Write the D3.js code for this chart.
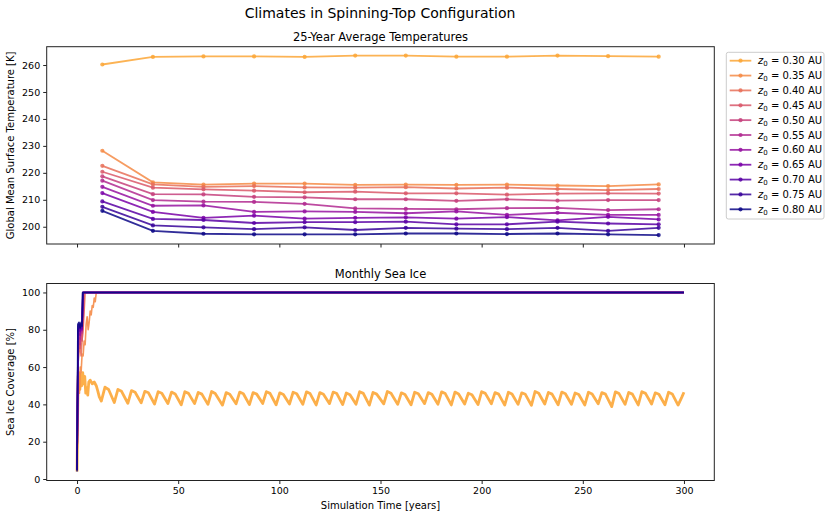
<!DOCTYPE html>
<html>
<head>
<meta charset="utf-8">
<script src="https://cdn.jsdelivr.net/npm/d3@7/dist/d3.min.js"></script>
<style>
  html, body { margin: 0; padding: 0; background: #fff; }
  svg { display: block; font-family: "DejaVu Sans", sans-serif; }
</style>
</head>
<body>
<svg id="chart" width="831" height="518"></svg>
<script>
// ---------------- DATA ----------------
const orbitLabels = ["0.30", "0.35", "0.40", "0.45", "0.50", "0.55", "0.60", "0.65", "0.70", "0.75", "0.80"];
const avgYears = [12.5, 37.5, 62.5, 87.5, 112.5, 137.5, 162.5, 187.5, 212.5, 237.5, 262.5, 287.5];

const temp030 = [260.2, 263.0, 263.2, 263.2, 263.0, 263.5, 263.5, 263.1, 263.1, 263.5, 263.3, 263.1];
const temp035 = [228.2, 216.5, 215.6, 216.0, 216.0, 215.5, 215.6, 215.5, 215.6, 215.3, 215.1, 215.7];
const temp040 = [222.6, 215.7, 214.8, 215.1, 214.6, 214.5, 214.7, 214.2, 214.5, 214.0, 213.6, 214.0];
const temp045 = [220.4, 214.5, 213.9, 213.4, 212.8, 213.0, 212.4, 212.4, 211.9, 212.3, 212.4, 212.3];
const temp050 = [218.7, 212.1, 212.0, 211.1, 210.9, 210.2, 210.2, 209.6, 210.2, 209.7, 209.9, 209.9];
const temp055 = [217.1, 209.9, 209.3, 209.2, 208.5, 206.8, 206.6, 206.5, 206.9, 207.0, 206.2, 206.5];
const temp060 = [214.8, 207.8, 207.9, 205.5, 205.7, 205.5, 205.0, 205.7, 204.4, 205.2, 204.4, 204.4];
const temp065 = [212.5, 205.5, 203.3, 204.1, 203.0, 203.3, 203.5, 203.0, 203.6, 202.4, 203.7, 202.7];
const temp070 = [209.4, 202.9, 202.5, 201.4, 201.7, 201.7, 201.9, 200.9, 200.9, 201.9, 201.2, 200.9];
const temp075 = [207.4, 200.5, 199.8, 199.1, 199.8, 198.8, 199.6, 199.3, 199.1, 199.6, 198.5, 199.6];
const temp080 = [205.9, 198.5, 197.4, 197.2, 197.2, 197.2, 197.5, 197.5, 197.3, 197.5, 197.2, 196.9];

// Monthly sea ice (at turning points)
const iceT030 = [0, 0.3, 0.6, 1.0, 1.4, 1.8, 2.3, 2.8, 3.3, 3.8, 4.3, 4.8, 5.3, 5.8, 6.5, 7.5, 8.5, 9.5, 10.3, 11.0,
  12.0, 13.8, 15.6, 18.4, 20.2, 22.0, 25.1, 26.9, 28.7, 31.7, 33.5, 35.3, 38.3, 40.1, 41.9, 44.9, 46.7, 48.5,
  51.5, 53.3, 55.1, 58.1, 59.9, 61.7, 64.7, 66.5, 68.3, 71.9, 73.7, 75.5, 78.6, 80.4, 82.2, 85.2, 87.0, 88.8,
  91.8, 93.6, 95.4, 98.4, 100.2, 102.0, 105.0, 106.8, 108.6, 111.6, 113.4, 115.2, 118.2, 120.0, 121.8,
  124.8, 126.6, 128.4, 131.3, 133.1, 134.9, 137.9, 139.7, 141.5, 144.5, 146.3, 148.1, 151.6, 153.4, 155.2,
  158.5, 160.3, 162.1, 165.1, 166.9, 168.7, 171.8, 173.6, 175.4, 178.4, 180.2, 182.0, 185.0, 186.8, 188.6,
  191.6, 193.4, 195.2, 198.2, 200.0, 201.8, 204.8, 206.6, 208.4, 211.4, 213.2, 215.0, 218.0, 219.8, 221.6,
  224.6, 226.4, 228.2, 231.2, 233.0, 234.8, 237.8, 239.6, 241.4, 244.4, 246.2, 248.0, 251.0, 252.8, 254.6,
  257.6, 259.4, 261.2, 264.3, 266.1, 267.9, 270.9, 272.7, 274.5, 277.4, 279.2, 281.0, 284.0, 285.8, 287.6,
  290.6, 292.4, 294.2, 297.1, 299.0, 300.0];
const iceV030 = [4, 35, 55, 57, 48, 56, 50, 57, 51, 55, 46, 49, 45, 52, 53, 51, 52, 50, 47, 44,
  41.8, 49.2, 48.0, 41.0, 48.0, 47.0, 40.6, 47.4, 46.5, 40.8, 47.0, 46.2, 40.2, 46.8, 46.0, 40.5, 46.6, 45.6,
  39.8, 46.8, 45.9, 40.4, 46.4, 45.5, 40.0, 46.9, 45.8, 39.6, 46.3, 45.4, 40.3, 46.6, 45.7, 39.9, 46.3, 45.5,
  40.5, 46.8, 45.9, 39.8, 46.2, 45.3, 40.2, 46.5, 45.7, 40.0, 46.7, 45.8, 39.7, 46.3, 45.4,
  40.4, 46.6, 45.8, 39.9, 46.1, 45.2, 40.1, 46.8, 45.9, 39.6, 46.4, 45.5, 40.3, 46.9, 46.0,
  40.0, 46.2, 45.3, 39.8, 46.5, 45.7, 40.4, 46.3, 45.4, 40.1, 46.7, 45.8, 39.7, 46.6, 45.6,
  40.2, 46.0, 45.2, 39.9, 46.8, 45.9, 40.3, 46.3, 45.5, 39.6, 46.5, 45.6, 40.0, 46.2, 45.4,
  39.5, 46.9, 46.0, 40.2, 46.4, 45.5, 39.8, 46.6, 45.7, 40.1, 46.1, 45.3, 39.7, 46.5, 45.6,
  40.3, 46.3, 45.5, 38.8, 46.7, 45.8, 40.0, 46.4, 45.5, 39.7, 46.8, 45.9, 40.2, 46.2, 45.4,
  39.8, 46.5, 45.6, 39.6, 44.0, 46.5];

const iceT035 = [0, 0.4, 0.8, 1.2, 1.6, 2.0, 2.5, 3.0, 3.5, 4.0, 4.5, 5.0, 5.5, 6.0, 6.5, 7.0, 7.5, 8.0, 8.5, 9.0, 9.5, 300];
const iceV035 = [5, 40, 50, 46, 60, 57, 67, 66, 74, 72, 83, 87, 80, 84, 90, 88, 93, 92, 97, 95, 100, 100];
const iceT040 = [0, 0.5, 1.0, 1.5, 2.0, 2.5, 3.0, 3.5, 4.0, 300];
const iceV040 = [5, 62, 68, 72, 66, 75, 80, 90, 100, 100];
const iceT045 = [0, 0.5, 1.0, 1.5, 2.0, 2.5, 3.0, 3.5, 300];
const iceV045 = [5, 66, 74, 70, 78, 74, 85, 100, 100];
const iceT050 = [0, 0.5, 1.0, 1.5, 2.0, 2.5, 3.0, 300];
const iceV050 = [5, 70, 76, 72, 80, 78, 100, 100];
const iceT055 = [0, 0.5, 1.0, 1.5, 2.0, 2.5, 3.0, 300];
const iceV055 = [5, 73, 78, 75, 81, 79, 100, 100];
const iceT060 = [0, 0.5, 1.0, 1.5, 2.0, 2.5, 2.9, 300];
const iceV060 = [5, 76, 80, 77, 82, 80, 100, 100];
const iceT065 = [0, 0.5, 1.0, 1.5, 2.0, 2.5, 2.9, 300];
const iceV065 = [5, 78, 81, 79, 82, 80, 100, 100];
const iceT070 = [0, 0.5, 1.0, 1.5, 2.0, 2.5, 2.8, 300];
const iceV070 = [5, 80, 82, 80, 83, 81, 100, 100];
const iceT075 = [0, 0.5, 1.0, 1.5, 2.0, 2.5, 2.8, 300];
const iceV075 = [5, 82, 83, 81, 83, 82, 100, 100];
const iceT080 = [0, 0.4, 1.0, 1.5, 2.0, 2.5, 2.8, 300];
const iceV080 = [4, 83, 84, 81, 84, 82, 100, 100];

const xTicks = [0, 50, 100, 150, 200, 250, 300];
const tempTicks = [200, 210, 220, 230, 240, 250, 260];
const iceTicks = [0, 20, 40, 60, 80, 100];

const tempSeries = [temp030, temp035, temp040, temp045, temp050, temp055, temp060, temp065, temp070, temp075, temp080];
const iceSeries = [
  [iceT030, iceV030], [iceT035, iceV035], [iceT040, iceV040], [iceT045, iceV045], [iceT050, iceV050],
  [iceT055, iceV055], [iceT060, iceV060], [iceT065, iceV065], [iceT070, iceV070], [iceT075, iceV075], [iceT080, iceV080]
];

// ---------------- LAYOUT ----------------
const svg = d3.select("#chart");
const L = 46.7, R = 714.3;
const top1 = 46.7, bot1 = 244;
const top2 = 283.5, bot2 = 480.5;

const color = i => d3.interpolatePlasma(0.8 - 0.08 * i);

const x = d3.scaleLinear().domain([-15, 315]).range([L, R]);
const yT = d3.scaleLinear().domain([193.6, 266.8]).range([bot1, top1]);
const yI = d3.scaleLinear().domain([-0.8, 104.8]).range([bot2, top2]);

const defs = svg.append("defs");
defs.append("clipPath").attr("id", "clip1").append("rect").attr("x", L).attr("y", top1).attr("width", R - L).attr("height", bot1 - top1);
defs.append("clipPath").attr("id", "clip2").append("rect").attr("x", L).attr("y", top2).attr("width", R - L).attr("height", bot2 - top2);

// titles
svg.append("text").attr("x", 380).attr("y", 18).attr("text-anchor", "middle")
  .attr("font-size", 14).attr("fill", "#000").text("Climates in Spinning-Top Configuration");
svg.append("text").attr("x", (L + R) / 2).attr("y", 41).attr("text-anchor", "middle")
  .attr("font-size", 11.5).attr("fill", "#000").text("25-Year Average Temperatures");
svg.append("text").attr("x", (L + R) / 2).attr("y", 278).attr("text-anchor", "middle")
  .attr("font-size", 11.5).attr("fill", "#000").text("Monthly Sea Ice");

// ---------------- TOP PANEL ----------------
const g1 = svg.append("g");
const p1 = g1.append("g").attr("clip-path", "url(#clip1)");
const lineT = d3.line().x((d, i) => x(avgYears[i])).y(d => yT(d));
tempSeries.forEach((s, i) => {
  const c = color(i);
  p1.append("path").datum(s).attr("d", lineT).attr("fill", "none")
    .attr("stroke", c).attr("stroke-width", 1.8).attr("opacity", 0.85);
  p1.selectAll(null).data(s).enter().append("circle")
    .attr("cx", (d, j) => x(avgYears[j])).attr("cy", d => yT(d)).attr("r", 2.1)
    .attr("fill", c).attr("opacity", 0.85);
});

g1.append("g").attr("transform", `translate(${L},0)`)
  .call(d3.axisLeft(yT).tickValues(tempTicks).tickSize(3.5).tickPadding(3));
g1.append("g").attr("transform", `translate(0,${bot1})`)
  .call(d3.axisBottom(x).tickValues(xTicks).tickSize(3.5).tickFormat(""));
g1.append("rect").attr("x", L).attr("y", top1).attr("width", R - L).attr("height", bot1 - top1)
  .attr("fill", "none").attr("stroke", "#222").attr("stroke-width", 1);

svg.append("text").attr("transform", `translate(14,${(top1 + bot1) / 2}) rotate(-90)`)
  .attr("text-anchor", "middle").attr("font-size", 10).attr("fill", "#000")
  .text("Global Mean Surface Temperature [K]");

// ---------------- BOTTOM PANEL ----------------
const g2 = svg.append("g");
const p2 = g2.append("g").attr("clip-path", "url(#clip2)");
iceSeries.forEach((s, i) => {
  const [ts, vs] = s;
  const line = d3.line().x((d, j) => x(ts[j])).y(d => yI(d));
  p2.append("path").datum(vs).attr("d", line).attr("fill", "none")
    .attr("stroke", color(i)).attr("stroke-width", i === 0 ? 2.8 : 1.6)
    .attr("stroke-linejoin", "round").attr("opacity", 0.9);
});

g2.append("g").attr("transform", `translate(${L},0)`)
  .call(d3.axisLeft(yI).tickValues(iceTicks).tickSize(3.5).tickPadding(3));
g2.append("g").attr("transform", `translate(0,${bot2})`)
  .call(d3.axisBottom(x).tickValues(xTicks).tickSize(3.5).tickPadding(3));
g2.append("rect").attr("x", L).attr("y", top2).attr("width", R - L).attr("height", bot2 - top2)
  .attr("fill", "none").attr("stroke", "#222").attr("stroke-width", 1);

svg.append("text").attr("transform", `translate(14,${(top2 + bot2) / 2}) rotate(-90)`)
  .attr("text-anchor", "middle").attr("font-size", 10).attr("fill", "#000")
  .text("Sea Ice Coverage [%]");
svg.append("text").attr("x", (L + R) / 2).attr("y", 509).attr("text-anchor", "middle")
  .attr("font-size", 10).attr("fill", "#000").text("Simulation Time [years]");

// axis styling
svg.selectAll(".domain").attr("stroke", "none");
svg.selectAll(".tick line").attr("stroke", "#222");
svg.selectAll(".tick text").attr("font-size", 9.5).attr("fill", "#000").attr("font-family", "DejaVu Sans");

// ---------------- LEGEND ----------------
const lg = svg.append("g");
lg.append("rect").attr("x", 726.3).attr("y", 52.3).attr("width", 97.7).attr("height", 166.7)
  .attr("rx", 2).attr("fill", "#fff").attr("stroke", "#ccc").attr("stroke-width", 1);
orbitLabels.forEach((lab, i) => {
  const yy = 60.7 + i * 14.86;
  const c = color(i);
  lg.append("line").attr("x1", 729.7).attr("x2", 751.3).attr("y1", yy).attr("y2", yy)
    .attr("stroke", c).attr("stroke-width", 1.8).attr("opacity", 0.85);
  lg.append("circle").attr("cx", 740.5).attr("cy", yy).attr("r", 2.1).attr("fill", c).attr("opacity", 0.85);
  const t = lg.append("text").attr("x", 758).attr("y", yy + 3.6).attr("font-size", 10).attr("fill", "#000");
  t.append("tspan").attr("font-style", "italic").text("z");
  t.append("tspan").attr("font-size", 7).attr("dy", 2).text("0");
  t.append("tspan").attr("dy", -2).text(" = " + lab + " AU");
});
</script>
</body>
</html>
